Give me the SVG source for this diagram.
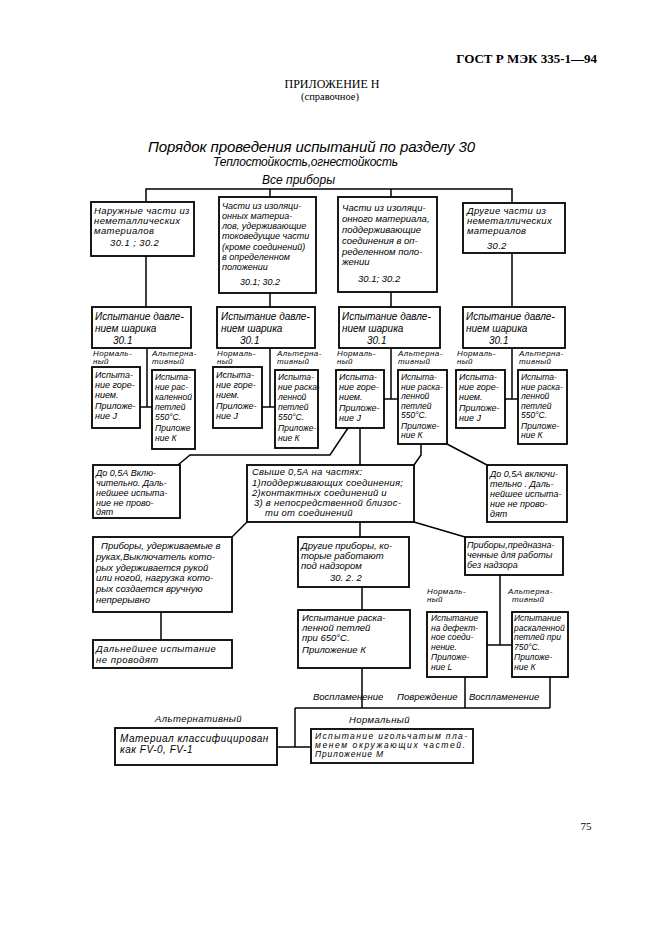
<svg xmlns="http://www.w3.org/2000/svg" width="661" height="936" viewBox="0 0 661 936">
<style>
.b{fill:#fff;stroke:#000;stroke-width:1.8}
.c{fill:none;stroke:#000;stroke-width:1.5}
.t{font-family:"Liberation Sans",Arial,sans-serif;font-style:italic;font-size:9.5px;fill:#000}
.m{font-size:10px}
.s{font-size:9px}
.x{font-size:8.5px}
.l{font-size:8px;letter-spacing:0.4px}
.h{font-family:"Liberation Serif","Times New Roman",serif;fill:#000}
</style>
<rect width="661" height="936" fill="#fff"/>
<text class="h" x="597" y="63" text-anchor="end" font-weight="bold" font-size="13">ГОСТ Р МЭК 335-1—94</text>
<text class="h" x="332" y="88" text-anchor="middle" font-size="12">ПРИЛОЖЕНИЕ Н</text>
<text class="h" x="330" y="100" text-anchor="middle" font-size="10.5">(справочное)</text>
<text class="t" x="148" y="152" style="font-size:15px" textLength="327" lengthAdjust="spacing">Порядок проведения испытаний по разделу 30</text>
<text class="t" x="213" y="166" style="font-size:12px" textLength="185" lengthAdjust="spacing">Теплостойкость,огнестойкость</text>
<text class="t" x="262" y="184" style="font-size:12px" textLength="73" lengthAdjust="spacing">Все приборы</text>

<g id="connectors">
<polyline class="c" points="146,202 146,189 512,189 512,203"/>
<line class="c" x1="270" y1="189" x2="270" y2="197"/>
<line class="c" x1="391" y1="189" x2="391" y2="197"/>
<line class="c" x1="146" y1="256" x2="146" y2="307"/>
<line class="c" x1="270" y1="293" x2="270" y2="307"/>
<line class="c" x1="391" y1="292" x2="391" y2="307"/>
<line class="c" x1="512" y1="253" x2="512" y2="307"/>
<line class="c" x1="147" y1="348" x2="147" y2="407"/><line class="c" x1="140" y1="407" x2="152" y2="407"/>
<line class="c" x1="270" y1="348" x2="270" y2="407"/><line class="c" x1="262" y1="407" x2="275" y2="407"/>
<line class="c" x1="391" y1="348" x2="391" y2="399"/><line class="c" x1="384" y1="399" x2="398" y2="399"/>
<line class="c" x1="512" y1="348" x2="512" y2="399"/><line class="c" x1="505" y1="399" x2="518" y2="399"/>
<polyline class="c" points="348,428 330,455 190,455 178,465"/>
<line class="c" x1="360" y1="428" x2="360" y2="465"/>
<polyline class="c" points="421,444 421,455 414,465"/>
<line class="c" x1="447" y1="444" x2="487" y2="465"/>
<line class="c" x1="247" y1="522" x2="232" y2="537"/>
<line class="c" x1="360" y1="522" x2="360" y2="537"/>
<line class="c" x1="414" y1="522" x2="465" y2="537"/>
<line class="c" x1="161" y1="612" x2="161" y2="640"/>
<line class="c" x1="362" y1="587" x2="362" y2="610"/>
<line class="c" x1="500" y1="575" x2="500" y2="645"/>
<line class="c" x1="487" y1="645" x2="512" y2="645"/>
<line class="c" x1="362" y1="668" x2="362" y2="708"/>
<line class="c" x1="465" y1="677" x2="465" y2="708"/>
<line class="c" x1="550" y1="677" x2="550" y2="708"/>
<line class="c" x1="295" y1="708" x2="550" y2="708"/>
<line class="c" x1="295" y1="708" x2="295" y2="747"/>
<line class="c" x1="277" y1="747" x2="311" y2="747"/>
</g>

<g id="n1"><rect class="b" x="91" y="202" width="103" height="54"/>
<text class="t" letter-spacing="0.4"><tspan x="94" y="214">Наружные части из</tspan><tspan x="94" y="224">неметаллических</tspan><tspan x="94" y="234">материалов</tspan><tspan x="110" y="246">30.1 ; 30.2</tspan></text></g>
<g id="n2"><rect class="b" x="219" y="197" width="97" height="96"/>
<text class="t s"><tspan x="222" y="209">Части из изоляци-</tspan><tspan x="222" y="219">онных материа-</tspan><tspan x="222" y="229">лов, удерживающие</tspan><tspan x="222" y="239">токоведущие части</tspan><tspan x="222" y="250">(кроме соединений)</tspan><tspan x="222" y="260">в определенном</tspan><tspan x="222" y="270">положении</tspan><tspan x="240" y="285">30.1; 30.2</tspan></text></g>
<g id="n3"><rect class="b" x="338" y="197" width="99" height="95"/>
<text class="t"><tspan x="342" y="211">Части из изоляци-</tspan><tspan x="342" y="222">онного материала,</tspan><tspan x="342" y="233">поддерживающие</tspan><tspan x="342" y="244">соединения в оп-</tspan><tspan x="342" y="255">ределенном поло-</tspan><tspan x="342" y="265">жении</tspan><tspan x="358" y="282">30.1; 30.2</tspan></text></g>
<g id="n4"><rect class="b" x="463" y="203" width="102" height="50"/>
<text class="t" letter-spacing="0.3"><tspan x="467" y="214">Другие части из</tspan><tspan x="467" y="224">неметаллических</tspan><tspan x="467" y="234">материалов</tspan><tspan x="487" y="249">30.2</tspan></text></g>

<g id="p1"><rect class="b" x="92" y="307" width="99" height="41"/>
<text class="t m"><tspan x="95" y="320">Испытание давле-</tspan><tspan x="95" y="331.5">нием шарика</tspan><tspan x="113" y="344">30.1</tspan></text></g>
<g id="p2"><rect class="b" x="217" y="307" width="98" height="41"/>
<text class="t m"><tspan x="221" y="320">Испытание давле-</tspan><tspan x="221" y="331.5">нием шарика</tspan><tspan x="240" y="344">30.1</tspan></text></g>
<g id="p3"><rect class="b" x="339" y="307" width="101" height="41"/>
<text class="t m"><tspan x="342" y="320">Испытание давле-</tspan><tspan x="342" y="331.5">нием шарика</tspan><tspan x="367" y="344">30.1</tspan></text></g>
<g id="p4"><rect class="b" x="463" y="307" width="102" height="41"/>
<text class="t m"><tspan x="466" y="320">Испытание давле-</tspan><tspan x="466" y="331.5">нием шарика</tspan><tspan x="489" y="344">30.1</tspan></text></g>

<g id="labels-upper">
<text class="t l"><tspan x="93" y="356">Нормаль-</tspan><tspan x="93" y="364">ный</tspan></text>
<text class="t l"><tspan x="152" y="356">Альтерна-</tspan><tspan x="152" y="364">тивный</tspan></text>
<text class="t l"><tspan x="217" y="356">Нормаль-</tspan><tspan x="217" y="364">ный</tspan></text>
<text class="t l"><tspan x="277" y="356">Альтерна-</tspan><tspan x="277" y="364">тивный</tspan></text>
<text class="t l"><tspan x="337" y="356">Нормаль-</tspan><tspan x="337" y="364">ный</tspan></text>
<text class="t l"><tspan x="398" y="356">Альтерна-</tspan><tspan x="398" y="364">тивный</tspan></text>
<text class="t l"><tspan x="457" y="356">Нормаль-</tspan><tspan x="457" y="364">ный</tspan></text>
<text class="t l"><tspan x="519" y="356">Альтерна-</tspan><tspan x="519" y="364">тивный</tspan></text>
</g>

<g id="j1"><rect class="b" x="92" y="367" width="48" height="61"/>
<text class="t s"><tspan x="95" y="378">Испыта-</tspan><tspan x="95" y="388">ние горе-</tspan><tspan x="95" y="398">нием.</tspan><tspan x="95" y="409">Приложе-</tspan><tspan x="95" y="419">ние J</tspan></text></g>
<g id="k1"><rect class="b" x="152" y="370" width="43" height="79"/>
<text class="t x"><tspan x="155" y="380">Испыта-</tspan><tspan x="155" y="390">ние рас-</tspan><tspan x="155" y="400">каленной</tspan><tspan x="155" y="410">петлей</tspan><tspan x="155" y="420">550°С.</tspan><tspan x="155" y="431">Приложе</tspan><tspan x="155" y="441">ние К</tspan></text></g>
<g id="j2"><rect class="b" x="213" y="367" width="49" height="61"/>
<text class="t s"><tspan x="216" y="378">Испыта-</tspan><tspan x="216" y="388">ние горе-</tspan><tspan x="216" y="398">нием.</tspan><tspan x="216" y="409">Приложе-</tspan><tspan x="216" y="419">ние J</tspan></text></g>
<g id="k2"><rect class="b" x="275" y="370" width="43" height="78"/>
<text class="t x"><tspan x="278" y="380">Испыта-</tspan><tspan x="278" y="390">ние раска-</tspan><tspan x="278" y="400">ленной</tspan><tspan x="278" y="410">петлей</tspan><tspan x="278" y="420">550°С.</tspan><tspan x="278" y="431">Приложе-</tspan><tspan x="278" y="441">ние К</tspan></text></g>
<g id="j3"><rect class="b" x="336" y="370" width="48" height="58"/>
<text class="t s"><tspan x="339" y="380">Испыта-</tspan><tspan x="339" y="390">ние горе-</tspan><tspan x="339" y="400">нием.</tspan><tspan x="339" y="411">Приложе-</tspan><tspan x="339" y="421">ние J</tspan></text></g>
<g id="k3"><rect class="b" x="398" y="370" width="49" height="74"/>
<text class="t x"><tspan x="401" y="380">Испыта-</tspan><tspan x="401" y="389.5">ние раска-</tspan><tspan x="401" y="399">ленной</tspan><tspan x="401" y="408.5">петлей</tspan><tspan x="401" y="418">550°С.</tspan><tspan x="401" y="428.5">Приложе-</tspan><tspan x="401" y="438">ние К</tspan></text></g>
<g id="j4"><rect class="b" x="456" y="370" width="49" height="58"/>
<text class="t s"><tspan x="459" y="380">Испыта-</tspan><tspan x="459" y="390">ние горе-</tspan><tspan x="459" y="400">нием.</tspan><tspan x="459" y="411">Приложе-</tspan><tspan x="459" y="421">ние J</tspan></text></g>
<g id="k4"><rect class="b" x="518" y="370" width="49" height="74"/>
<text class="t x"><tspan x="521" y="380">Испыта-</tspan><tspan x="521" y="389.5">ние раска-</tspan><tspan x="521" y="399">ленной</tspan><tspan x="521" y="408.5">петлей</tspan><tspan x="521" y="418">550°С.</tspan><tspan x="521" y="428.5">Приложе-</tspan><tspan x="521" y="438">ние К</tspan></text></g>

<g id="d1"><rect class="b" x="93" y="465" width="87" height="53"/>
<text class="t s"><tspan x="96" y="476">До 0,5А Вклю-</tspan><tspan x="96" y="486">чительно. Даль-</tspan><tspan x="96" y="496">нейшее испыта-</tspan><tspan x="96" y="505.5">ние не прово-</tspan><tspan x="96" y="515">дят</tspan></text></g>
<g id="over"><rect class="b" x="247" y="465" width="167" height="57"/>
<text class="t" letter-spacing="0.25"><tspan x="252" y="475">Свыше 0,5А на частях:</tspan><tspan x="252" y="485.5">1)поддерживающих соединения;</tspan><tspan x="252" y="495.5">2)контактных соединений и</tspan><tspan x="254" y="505.5">3) в непосредственной близос-</tspan><tspan x="265" y="516">ти от соединений</tspan></text></g>
<g id="d2"><rect class="b" x="487" y="465" width="80" height="57"/>
<text class="t s"><tspan x="490" y="477">До 0,5А включи-</tspan><tspan x="490" y="487">тельно . Даль-</tspan><tspan x="490" y="497">нейшее испыта-</tspan><tspan x="490" y="507">ние не прово-</tspan><tspan x="490" y="517">дят</tspan></text></g>

<g id="hand"><rect class="b" x="93" y="537" width="139" height="75"/>
<text class="t"><tspan x="101" y="549">Приборы, удерживаемые в</tspan><tspan x="96" y="560">руках,Выключатель кото-</tspan><tspan x="96" y="571">рых удерживается рукой</tspan><tspan x="96" y="581">или ногой, нагрузка кото-</tspan><tspan x="96" y="592">рых создается вручную</tspan><tspan x="96" y="603">непрерывно</tspan></text></g>
<g id="stop"><rect class="b" x="93" y="640" width="139" height="28"/>
<text class="t" letter-spacing="0.5"><tspan x="96" y="652">Дальнейшее испытание</tspan><tspan x="96" y="663">не проводят</tspan></text></g>
<g id="super"><rect class="b" x="298" y="537" width="111" height="50"/>
<text class="t"><tspan x="301" y="549">Другие приборы, ко-</tspan><tspan x="301" y="559">торые работают</tspan><tspan x="301" y="569">под надзором</tspan><tspan x="330" y="581">30. 2. 2</tspan></text></g>
<g id="w650"><rect class="b" x="298" y="610" width="112" height="58"/>
<text class="t"><tspan x="302" y="621">Испытание раска-</tspan><tspan x="302" y="631">ленной петлей</tspan><tspan x="302" y="641">при 650°С.</tspan><tspan x="302" y="653">Приложение К</tspan></text></g>
<g id="unatt"><rect class="b" x="465" y="537" width="98" height="38"/>
<text class="t s"><tspan x="467" y="548">Приборы,предназна-</tspan><tspan x="467" y="558">ченные для работы</tspan><tspan x="467" y="568">без надзора</tspan></text></g>

<g id="labels-lower">
<text class="t l"><tspan x="427" y="594">Нормаль-</tspan><tspan x="427" y="602">ный</tspan></text>
<text class="t l"><tspan x="508" y="594">Альтерна-</tspan><tspan x="512" y="602">тивный</tspan></text>
</g>

<g id="defect"><rect class="b" x="427" y="612" width="60" height="65"/>
<text class="t x"><tspan x="431" y="621">Испытание</tspan><tspan x="431" y="630.5">на дефект-</tspan><tspan x="431" y="640">ное соеди-</tspan><tspan x="431" y="649.5">нение.</tspan><tspan x="431" y="660">Приложе-</tspan><tspan x="431" y="669.5">ние L</tspan></text></g>
<g id="w750"><rect class="b" x="512" y="612" width="56" height="65"/>
<text class="t x"><tspan x="514" y="621">Испытание</tspan><tspan x="514" y="630.5">раскаленной</tspan><tspan x="514" y="640">петлей при</tspan><tspan x="514" y="649.5">750°С.</tspan><tspan x="514" y="660">Приложе-</tspan><tspan x="514" y="669.5">ние К</tspan></text></g>

<g id="edge-labels">
<text class="t" x="313" y="700">Воспламенение</text>
<text class="t" x="397" y="700">Повреждение</text>
<text class="t" x="469" y="700">Воспламенение</text>
<text class="t" x="155" y="722" letter-spacing="0.4">Альтернативный</text>
<text class="t" x="349" y="723" letter-spacing="0.4">Нормальный</text>
</g>

<g id="fv"><rect class="b" x="115" y="728" width="162" height="37"/>
<text class="t m" letter-spacing="0.5"><tspan x="120" y="742">Материал классифицирован</tspan><tspan x="120" y="753">как  FV-0, FV-1</tspan></text></g>
<g id="needle"><rect class="b" x="311" y="729" width="162" height="34"/>
<text class="t x"><tspan x="315" y="739" textLength="152" lengthAdjust="spacing">Испытание игольчатым пла-</tspan><tspan x="315" y="748" textLength="150" lengthAdjust="spacing">менем окружающих частей.</tspan><tspan x="315" y="757" textLength="68" lengthAdjust="spacing">Приложение М</tspan></text></g>

<text class="h" x="586" y="830" text-anchor="middle" font-size="11">75</text>
</svg>
